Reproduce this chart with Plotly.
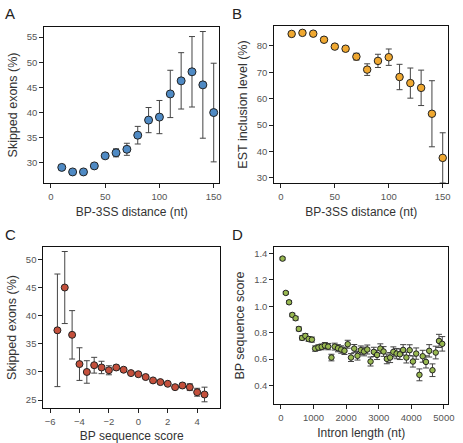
import plotly.graph_objects as go

W, H = 463, 443

# Panel A
a_x = [10, 20, 30, 40, 50, 60, 70, 80, 90, 100, 110, 120, 130, 140, 150]
a_y = [29.1, 28.2, 28.2, 29.4, 31.4, 32.0, 32.7, 35.5, 38.5, 39.1, 43.7, 46.3, 48.1, 45.5, 40.0]
a_err = [0.3, 0.3, 0.3, 0.3, 0.4, 0.8, 1.2, 1.75, 2.5, 3.3, 4.7, 5.6, 7.0, 10.6, 9.8]

# Panel B
b_x = [10, 20, 30, 40, 50, 60, 70, 80, 90, 100, 110, 120, 130, 140, 150]
b_y = [84.5, 84.9, 84.6, 82.3, 79.7, 78.9, 75.9, 71.0, 74.3, 75.7, 68.2, 65.9, 64.1, 54.3, 37.6]
b_err = [0.4, 0.4, 0.4, 0.5, 0.6, 0.8, 1.3, 2.2, 2.5, 3.1, 4.8, 5.7, 6.7, 12.5, 9.5]

# Panel C
c_x = [-5.5, -5, -4.5, -4, -3.5, -3, -2.5, -2, -1.5, -1, -0.5, 0, 0.5, 1, 1.5, 2, 2.5, 3, 3.5, 4, 4.5]
c_y = [37.4, 45.0, 36.6, 31.4, 30.0, 31.2, 30.8, 30.3, 30.8, 30.4, 29.8, 29.6, 29.1, 28.5, 28.2, 27.9, 27.3, 27.6, 27.3, 26.4, 26.0]
c_err = [10.0, 6.4, 4.3, 2.9, 2.0, 1.4, 1.1, 0.8, 0.4, 0.3, 0.2, 0.2, 0.2, 0.2, 0.2, 0.2, 0.3, 0.4, 0.6, 0.7, 1.3]

# Panel D
d_x = [50, 150, 250, 350, 450, 550, 650, 750, 850, 950,
       1050, 1150, 1250, 1350, 1450, 1550, 1650, 1750, 1850, 1950,
       2050, 2150, 2250, 2350, 2450, 2550, 2650, 2750, 2850, 2950,
       3050, 3150, 3250, 3350, 3450, 3550, 3650, 3750, 3850, 3950,
       4050, 4150, 4250, 4350, 4450, 4550, 4650, 4750, 4850, 4950]
d_y = [1.362, 1.102, 1.031, 0.935, 0.910, 0.829, 0.761, 0.776, 0.753, 0.748,
       0.680, 0.688, 0.693, 0.703, 0.695, 0.612, 0.695, 0.683, 0.673, 0.663,
       0.713, 0.612, 0.680, 0.625, 0.668, 0.658, 0.673, 0.582, 0.655, 0.632,
       0.680, 0.658, 0.602, 0.612, 0.655, 0.642, 0.637, 0.670, 0.612, 0.668,
       0.582, 0.642, 0.481, 0.622, 0.579, 0.663, 0.516, 0.650, 0.738, 0.716]
d_err = [0.010, 0.010, 0.012, 0.013, 0.014, 0.015, 0.016, 0.017, 0.018, 0.019,
         0.020, 0.021, 0.022, 0.023, 0.024, 0.025, 0.026, 0.027, 0.028, 0.028,
         0.030, 0.030, 0.031, 0.032, 0.032, 0.033, 0.034, 0.034, 0.035, 0.035,
         0.036, 0.037, 0.037, 0.038, 0.038, 0.039, 0.040, 0.040, 0.041, 0.041,
         0.042, 0.043, 0.045, 0.045, 0.046, 0.047, 0.048, 0.048, 0.050, 0.055]

fig = go.Figure()

def px_dom_x(l, r):
    return [l / W, r / W]

def px_dom_y(t, b):
    return [1 - b / H, 1 - t / H]

FONT = "Liberation Sans, Arial, sans-serif"

panels = [
    dict(x=a_x, y=a_y, e=a_err, color="#4f8ac4", size=8, ax="x", ay="y",
         dx=px_dom_x(45, 222), dy=px_dom_y(27, 183), xr=[-6, 155], yr=[26, 57],
         xt=[0, 50, 100, 150], yt=[30, 35, 40, 45, 50, 55],
         xtitle="BP-3SS distance (nt)", ytitle="Skipped exons (%)", label="A", lx=3, ly=3),
    dict(x=b_x, y=b_y, e=b_err, color="#f0a830", size=7.5, ax="x2", ay="y2",
         dx=px_dom_x(278, 454), dy=px_dom_y(26, 183), xr=[-6, 155], yr=[28.1, 87.5],
         xt=[0, 50, 100, 150], yt=[30, 40, 50, 60, 70, 80],
         xtitle="BP-3SS distance (nt)", ytitle="EST inclusion level (%)", label="B", lx=233, ly=3),
    dict(x=c_x, y=c_y, e=c_err, color="#c4503c", size=7, ax="x3", ay="y3",
         dx=px_dom_x(44, 223), dy=px_dom_y(247, 408), xr=[-6.45, 5.56], yr=[23.6, 52.2],
         xt=[-6, -4, -2, 0, 2, 4], yt=[25, 30, 35, 40, 45, 50],
         xtitle="BP sequence score", ytitle="Skipped exons (%)", label="C", lx=3, ly=224),
    dict(x=d_x, y=d_y, e=d_err, color="#98b850", size=5.5, ax="x4", ay="y4",
         dx=px_dom_x(278, 454), dy=px_dom_y(247, 404), xr=[-200, 5130], yr=[0.26, 1.45],
         xt=[0, 1000, 2000, 3000, 4000, 5000], yt=[0.4, 0.6, 0.8, 1.0, 1.2, 1.4],
         xtitle="Intron length (nt)", ytitle="BP sequence score", label="D", lx=233, ly=224),
]

annotations = []
layout_axes = {}
for i, p in enumerate(panels):
    fig.add_trace(go.Scatter(
        x=p["x"], y=p["y"], mode="markers", xaxis=p["ax"], yaxis=p["ay"],
        marker=dict(color=p["color"], size=p["size"], line=dict(color="#222222", width=1)),
        error_y=dict(type="data", array=p["e"], visible=True, color="#444444",
                     thickness=1, width=3),
        showlegend=False, hoverinfo="skip"))
    suffix = "" if i == 0 else str(i + 1)
    layout_axes["xaxis" + suffix] = dict(
        domain=p["dx"], range=p["xr"], anchor="y" + suffix,
        tickvals=p["xt"], ticks="outside", ticklen=4, tickwidth=1, tickcolor="#222",
        showline=True, linecolor="#111", linewidth=1.2, mirror=True,
        showgrid=False, zeroline=False,
        tickfont=dict(family=FONT, size=9.5, color="#555"),
        title=dict(text=p["xtitle"], standoff=7,
                   font=dict(family=FONT, size=12, color="#333")))
    ya = dict(
        domain=p["dy"], range=p["yr"], anchor="x" + suffix,
        tickvals=p["yt"], ticks="outside", ticklen=4, tickwidth=1, tickcolor="#222",
        showline=True, linecolor="#111", linewidth=1.2, mirror=True,
        showgrid=False, zeroline=False,
        tickfont=dict(family=FONT, size=9.5, color="#555"),
        title=dict(text=p["ytitle"], standoff=6,
                   font=dict(family=FONT, size=12.5, color="#333")))
    if i == 3:
        ya["tickformat"] = ".1f"
    layout_axes["yaxis" + suffix] = ya
    annotations.append(dict(text=p["label"], x=p["lx"] / W, y=1 - p["ly"] / H,
                            xref="paper", yref="paper", xanchor="left", yanchor="top",
                            showarrow=False,
                            font=dict(family=FONT, size=15, color="#222")))

fig.update_layout(
    width=W, height=H, margin=dict(l=0, r=0, t=0, b=0),
    paper_bgcolor="white", plot_bgcolor="white",
    annotations=annotations, **layout_axes)

fig.write_html("out.html", config={"displayModeBar": False},
               post_script="document.body.style.margin='0';document.body.style.overflow='hidden';")
